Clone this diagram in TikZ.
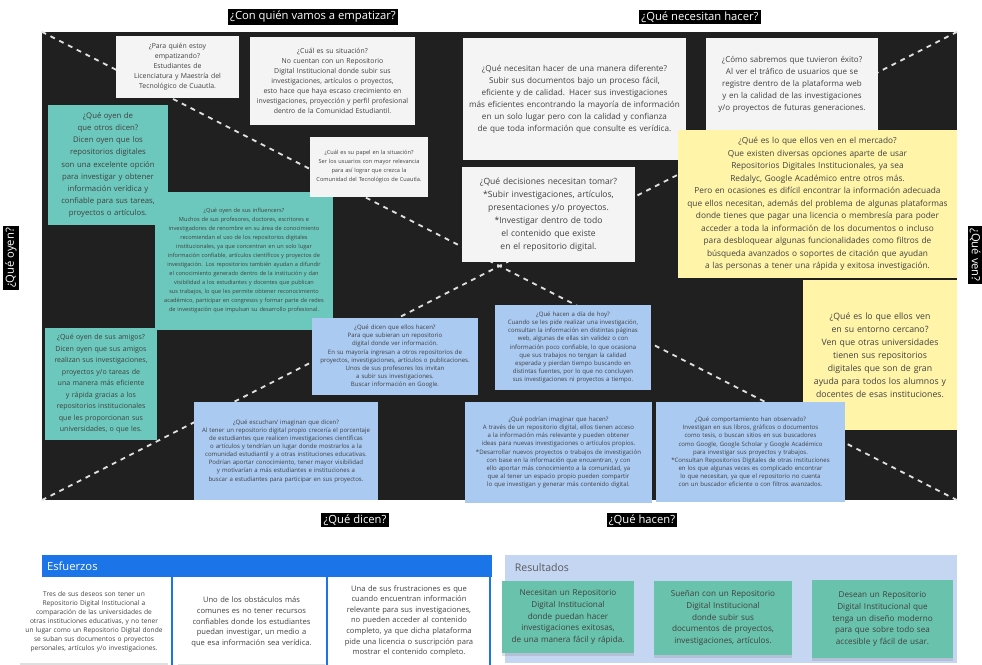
\documentclass[tikz,border=0pt]{standalone}
\usepackage{fontspec}
\setmainfont{Open Sans}
\usepackage{tikz}
\usetikzlibrary{shadows}
\definecolor{boardblack}{RGB}{32,32,32}
\definecolor{notewhite}{RGB}{244,244,245}
\definecolor{noteteal}{RGB}{108,200,188}
\definecolor{noteyellow}{RGB}{255,244,168}
\definecolor{noteblue}{RGB}{170,202,242}
\definecolor{esfblue}{RGB}{27,116,232}
\definecolor{resblue}{RGB}{197,214,243}
\definecolor{resteal}{RGB}{105,194,172}
\newcommand{\nsize}[2]{\fontsize{#1}{#2}\selectfont}
\hyphenpenalty=10000
\exhyphenpenalty=10000

\begin{document}
\begin{tikzpicture}[font=\nsize{6}{8.5},
    lbl/.style={fill=black, text=white, font=\nsize{8}{9}, inner sep=1.5pt},
    note/.style={align=center, inner sep=2pt, text=black!75},
    wnote/.style={note, fill=notewhite},
    tnote/.style={note, fill=noteteal},
    ynote/.style={note, fill=noteyellow},
    bnote/.style={note, fill=noteblue, font=\nsize{4.3}{5.8}},
    card/.style={note, drop shadow={shadow xshift=0pt, shadow yshift=-2pt, opacity=0.25}},
    diag/.style={draw=white!88!black, line width=1.3pt, dash pattern=on 3.5pt off 3.5pt},
    divider/.style={draw=esfblue, line width=1.6pt}]
    \useasboundingbox (0,0) rectangle (24.55,-16.625);

    \node[fill=boardblack, minimum width=22.875cm, minimum height=11.7cm] (board) at (12.4875,-6.65) {};
    \draw[diag] (board.north west) -- (board.south east);
    \draw[diag] (board.north east) -- (board.south west);

    \node[lbl] (empatizar) at (7.825,-0.425) {¿Con quién vamos a empatizar?};
    \node[lbl] (hacer) at (17.5,-0.425) {¿Qué necesitan hacer?};
    \node[lbl] (dicen) at (8.875,-13.0) {¿Qué dicen?};
    \node[lbl] (hacen) at (16.05,-13.0) {¿Qué hacen?};
    \node[lbl, rotate=90] (oyen) at (0.275,-6.45) {¿Qué oyen?};
    \node[lbl, rotate=-90] (ven) at (24.375,-6.375) {¿Qué ven?};

    \node[wnote, minimum width=2.975cm, minimum height=1.55cm, text width=2.95cm, font=\nsize{4.9}{7.1}] (who) at (4.4375,-1.675) {¿Para quién estoy\\ empatizando?\\ Estudiantes de Licenciatura y Maestría del Tecnológico de Cuautla.};
    \node[wnote, minimum width=4.125cm, minimum height=2.2cm, text width=3.8cm, font=\nsize{4.9}{7.1}] (situ) at (8.3125,-2.025) {¿Cuál es su situación?\\ No cuentan con un Repositorio Digital Institucional donde subir sus investigaciones, artículos o proyectos, esto hace que haya escaso crecimiento en investigaciones, proyección y perfil profesional dentro de la Comunidad Estudiantil.};
    \node[wnote, minimum width=5.575cm, minimum height=3.05cm, text width=5.3cm, font=\nsize{5.8}{8.5}] (diff) at (14.3625,-2.475) {¿Qué necesitan hacer de una manera diferente?\\ Subir sus documentos bajo un proceso fácil, eficiente y de calidad. Hacer sus investigaciones más eficientes encontrando la mayoría de información en un solo lugar pero con la calidad y confianza de que toda información que consulte es verídica.};
    \node[ynote, minimum width=6.975cm, minimum height=3.7cm, text width=6.6cm, font=\nsize{5.9}{8.9}] (mercado) at (20.4375,-5.1) {¿Qué es lo que ellos ven en el mercado?\\ Que existen diversas opciones aparte de usar Repositorios Digitales Institucionales, ya sea Redalyc, Google Académico entre otros más.\\ Pero en ocasiones es difícil encontrar la información adecuada que ellos necesitan, además del problema de algunas plataformas donde tienes que pagar una licencia o membresía para poder acceder a toda la información de los documentos o incluso para desbloquear algunas funcionalidades como filtros de búsqueda avanzados o soportes de citación que ayudan a las personas a tener una rápida y exitosa investigación.};
    \node[wnote, minimum width=4.3cm, minimum height=2.3cm, text width=4.0cm, font=\nsize{5.7}{8.5}] (exito) at (19.8,-2.1) {¿Cómo sabremos que tuvieron éxito?\\ Al ver el tráfico de usuarios que se registre dentro de la plataforma web y en la calidad de las investigaciones y/o proyectos de futuras generaciones.};
    \node[tnote, minimum width=3.0cm, minimum height=3.0cm, text width=2.6cm, font=\nsize{5.5}{8.6}] (otros) at (2.7,-4.125) {¿Qué oyen de que otros dicen?\\ Dicen oyen que los repositorios digitales son una excelente opción para investigar y obtener información verídica y confiable para sus tareas, proyectos o artículos.};
    \node[tnote, minimum width=4.45cm, minimum height=3.45cm, text width=4.1cm, font=\nsize{4}{6.4}] (influ) at (6.1,-6.525) {¿Qué oyen de sus influencers?\\ Muchos de sus profesores, doctores, escritores e investigadores de renombre en su área de conocimiento recomiendan el uso de los repositorios digitales institucionales, ya que concentran en un solo lugar información confiable, artículos científicos y proyectos de investigación. Los repositorios también ayudan a difundir el conocimiento generado dentro de la institución y dan visibilidad a los estudiantes y docentes que publican sus trabajos, lo que les permite obtener reconocimiento académico, participar en congresos y formar parte de redes de investigación que impulsan su desarrollo profesional.};
    \node[wnote, minimum width=2.95cm, minimum height=1.5cm, text width=2.65cm, font=\nsize{4}{6.4}] (papel) at (9.225,-4.175) {¿Cuál es su papel en la situación?\\ Ser los usuarios con mayor relevancia para así lograr que crezca la Comunidad del Tecnológico de Cuautla.};
    \node[wnote, minimum width=4.325cm, minimum height=2.375cm, text width=3.9cm, font=\nsize{6.1}{9.2}] (decis) at (13.7125,-5.3625) {¿Qué decisiones necesitan tomar?\\ {*}Subir investigaciones, artículos, presentaciones y/o proyectos.\\ {*}Investigar dentro de todo el contenido que existe en el repositorio digital.};
    \node[tnote, minimum width=2.8cm, minimum height=2.8cm, text width=2.5cm, font=\nsize{5}{8.2}] (amigos) at (2.525,-9.6) {¿Qué oyen de sus amigos?\\ Dicen oyen que sus amigos realizan sus investigaciones, proyectos y/o tareas de una manera más eficiente y rápida gracias a los repositorios institucionales que les proporcionan sus universidades, o que les.};
    \node[ynote, minimum width=3.85cm, minimum height=3.75cm, text width=3.5cm, font=\nsize{6.2}{9.3}] (entorno) at (22.0,-8.875) {¿Qué es lo que ellos ven en su entorno cercano?\\ Ven que otras universidades tienen sus repositorios digitales que son de gran ayuda para todos los alumnos y docentes de esas instituciones.};

    \node[bnote, minimum width=4.15cm, minimum height=1.925cm, text width=3.9cm] (dicenhacen) at (9.875,-8.9125) {¿Qué dicen que ellos hacen?\\ Para que subieran un repositorio digital donde ver información.\\ En su mayoría ingresan a otros repositorios de proyectos, investigaciones, artículos o publicaciones.\\ Unos de sus profesores los invitan a subir sus investigaciones.\\ Buscar información en Google.};
    \node[bnote, minimum width=3.9cm, minimum height=2.125cm, text width=3.65cm] (hoy) at (14.325,-8.6875) {¿Qué hacen a día de hoy?\\ Cuando se les pide realizar una investigación, consultan la información en distintas páginas web, algunas de ellas sin validez o con información poco confiable, lo que ocasiona que sus trabajos no tengan la calidad esperada y pierdan tiempo buscando en distintas fuentes, por lo que no concluyen sus investigaciones ni proyectos a tiempo.};
    \node[bnote, minimum width=4.6cm, minimum height=2.45cm, text width=4.3cm] (escuchan) at (7.15,-11.275) {¿Qué escuchan/ imaginan que dicen?\\ Al tener un repositorio digital propio crecería el porcentaje de estudiantes que realicen investigaciones científicas o artículos y tendrían un lugar donde mostrarlos a la comunidad estudiantil y a otras instituciones educativas. Podrían aportar conocimiento, tener mayor visibilidad y motivarían a más estudiantes e instituciones a buscar a estudiantes para participar en sus proyectos.};
    \node[bnote, minimum width=4.675cm, minimum height=2.525cm, text width=4.45cm] (podrian) at (13.9625,-11.3125) {¿Qué podrían imaginar que hacen?\\ A través de un repositorio digital, ellos tienen acceso a la información más relevante y pueden obtener ideas para nuevas investigaciones o artículos propios.\\ {*}Desarrollar nuevos proyectos o trabajos de investigación con base en la información que encuentran, y con ello aportar más conocimiento a la comunidad, ya que al tener un espacio propio pueden compartir lo que investigan y generar más contenido digital.};
    \node[bnote, minimum width=4.725cm, minimum height=2.5cm, text width=4.45cm] (comport) at (18.7625,-11.3) {¿Qué comportamiento han observado?\\ Investigan en sus libros, gráficos o documentos como tesis, o buscan sitios en sus buscadores como Google, Google Scholar y Google Académico para investigar sus proyectos y trabajos.\\ {*}Consultan Repositorios Digitales de otras instituciones en los que algunas veces es complicado encontrar lo que necesitan, ya que el repositorio no cuenta con un buscador eficiente o con filtros avanzados.};

    \node[fill=esfblue, text=white, align=left, text width=11.0cm, inner xsep=0.125cm, minimum height=0.55cm, font=\nsize{8}{9}] (esf) at (6.675,-14.15) {Esfuerzos};
    \draw[divider] (4.3,-14.425) -- (4.3,-16.625);
    \draw[divider] (8.175,-14.425) -- (8.175,-16.625);
    \draw[divider] (12.25,-14.425) -- (12.25,-16.625);
    \node[card, fill=white, minimum width=3.7cm, minimum height=2.075cm, text width=3.45cm, font=\nsize{4.7}{6.4}] (esfa) at (2.35,-15.5375) {Tres de sus deseos son tener un Repositorio Digital Institucional a comparación de las universidades de otras instituciones educativas, y no tener un lugar como un Repositorio Digital donde se suban sus documentos o proyectos personales, artículos y/o investigaciones.};
    \node[card, fill=white, minimum width=3.675cm, minimum height=2.1cm, text width=3.4cm, font=\nsize{5.4}{7.8}] (esfb) at (6.2875,-15.55) {Uno de los obstáculos más comunes es no tener recursos confiables donde los estudiantes puedan investigar, un medio a que esa información sea verídica.};
    \node[card, fill=white, minimum width=3.95cm, minimum height=2.2cm, text width=3.75cm, font=\nsize{5.4}{7.5}] (esfc) at (10.225,-15.525) {Una de sus frustraciones es que cuando encuentran información relevante para sus investigaciones, no pueden acceder al contenido completo, ya que dicha plataforma pide una licencia o suscripción para mostrar el contenido completo.};

    \node[fill=resblue, minimum width=11.3cm, minimum height=2.7cm] (res) at (18.275,-15.225) {};
    \node[anchor=west, text=black!65, font=\nsize{7.5}{9}] (restitle) at (12.75,-14.2) {Resultados};
    \node[card, fill=resteal, minimum width=3.3cm, minimum height=1.8cm, text width=3.0cm, font=\nsize{5.8}{8.5}] (resa) at (14.2,-15.425) {Necesitan un Repositorio Digital Institucional donde puedan hacer investigaciones exitosas, de una manera fácil y rápida.};
    \node[card, fill=resteal, minimum width=3.45cm, minimum height=1.85cm, text width=3.0cm, font=\nsize{5.8}{8.5}] (resb) at (18.075,-15.45) {Sueñan con un Repositorio Digital Institucional donde subir sus documentos de proyectos, investigaciones, artículos.};
    \node[card, fill=resteal, minimum width=3.525cm, minimum height=1.95cm, text width=3.15cm, font=\nsize{5.8}{8.5}] (resc) at (22.0625,-15.475) {Desean un Repositorio Digital Institucional que tenga un diseño moderno para que sobre todo sea accesible y fácil de usar.};
\end{tikzpicture}
\end{document}
